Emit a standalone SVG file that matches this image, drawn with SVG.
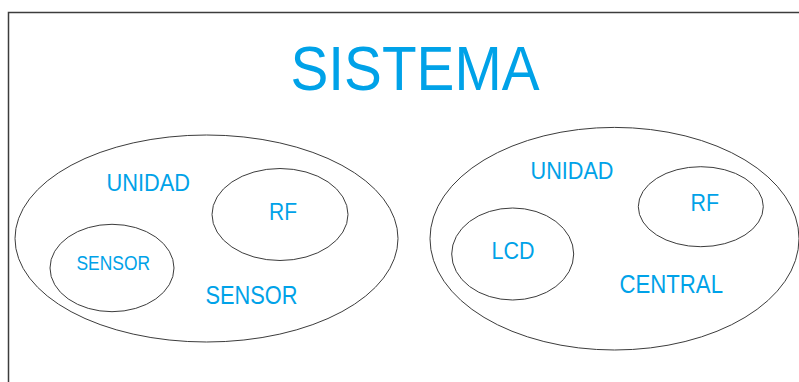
<svg xmlns="http://www.w3.org/2000/svg" width="799" height="382" viewBox="0 0 799 382">
<style>
.e{fill:none;stroke:#3c3c3c;stroke-width:1}
.t{font-family:"Liberation Sans",Arial,sans-serif;fill:#00a2e8}
</style>
<rect width="799" height="382" fill="#fff"/>
<path d="M8.5 382 V12.5 H799" fill="none" stroke="#3c3c3c" stroke-width="1.5"/>
<text class="t" x="290.5" y="90" font-size="63" textLength="249" lengthAdjust="spacingAndGlyphs">SISTEMA</text>
<g id="unidad-sensor">
<ellipse class="e" cx="206.5" cy="238.5" rx="191.5" ry="103.5"/>
<text class="t" x="106.5" y="191" font-size="24.5" textLength="83.5" lengthAdjust="spacingAndGlyphs">UNIDAD</text>
<text class="t" x="205.5" y="304" font-size="26" textLength="92" lengthAdjust="spacingAndGlyphs">SENSOR</text>
</g>
<g id="sensor">
<ellipse class="e" cx="112" cy="268" rx="62" ry="43.7"/>
<text class="t" x="76.5" y="270" font-size="20.5" textLength="73.5" lengthAdjust="spacingAndGlyphs">SENSOR</text>
</g>
<g id="rf-sensor">
<ellipse class="e" cx="280" cy="214.5" rx="68" ry="46"/>
<text class="t" x="269" y="220" font-size="24" textLength="28" lengthAdjust="spacingAndGlyphs">RF</text>
</g>
<g id="unidad-central">
<ellipse class="e" cx="614.5" cy="238.7" rx="184.5" ry="111.3"/>
<text class="t" x="530.5" y="179.3" font-size="24.5" textLength="83" lengthAdjust="spacingAndGlyphs">UNIDAD</text>
<text class="t" x="619.5" y="293.3" font-size="25.5" textLength="103.5" lengthAdjust="spacingAndGlyphs">CENTRAL</text>
</g>
<g id="lcd">
<ellipse class="e" cx="512.7" cy="254" rx="61" ry="46"/>
<text class="t" x="491.5" y="259.3" font-size="24.5" textLength="43" lengthAdjust="spacingAndGlyphs">LCD</text>
</g>
<g id="rf-central">
<ellipse class="e" cx="700.8" cy="206.7" rx="62.5" ry="40"/>
<text class="t" x="690.5" y="211" font-size="24" textLength="28.5" lengthAdjust="spacingAndGlyphs">RF</text>
</g>
<g id="connectors"/>
</svg>
